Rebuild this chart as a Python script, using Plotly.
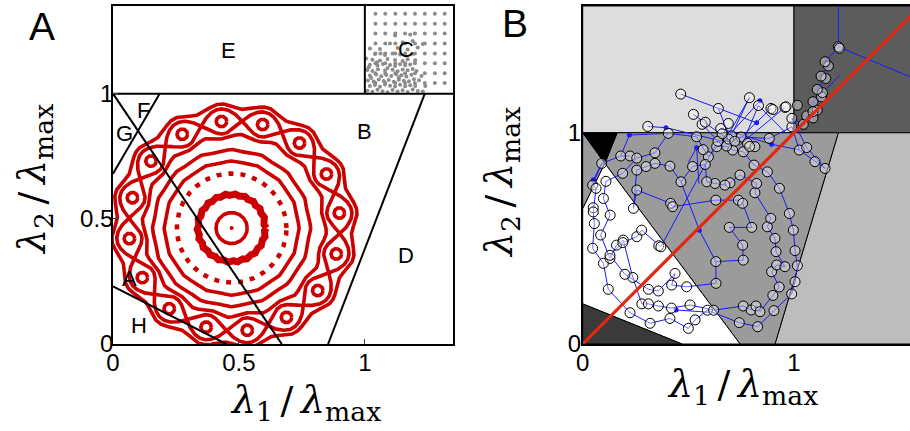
import numpy as np
import plotly.graph_objects as go

# ---------------- Panel A data ----------------
bound_x = [[0.0, 1.35], [1.0, 1.0], [0.0, 0.185], [0.0, 0.67], [0.0, 0.45], [0.854, 1.238]]
bound_y = [[1.0, 1.0], [1.0, 1.35], [0.68, 1.0], [1.0, 0.0], [0.23, 0.0], [0.0, 1.0]]

region_labels = ["E", "C", "F", "G", "B", "D", "A", "H"]
region_label_x = [0.458, 1.162, 0.12, 0.044, 1.0, 1.163, 0.065, 0.104]
region_label_y = [1.172, 1.175, 0.932, 0.839, 0.849, 0.352, 0.263, 0.072]

ring_cx, ring_cy = 0.482, 0.472
braid_r, braid_amp, braid_lobes = 0.42, 0.05, 8
eye_angle0_deg = 97.0
eye_circle_r = 0.021
outer_wavy_r, outer_wavy_amp = 0.478, 0.012
inner_wavy_r, inner_wavy_amp = 0.358, 0.008
plain_ring_r = [0.31, 0.265, 0.062]
plain_ring_amp = [0.004, 0.003, 0.0]
dotted_ring_r = 0.218
thick_ring_r, thick_ring_amp = 0.133, 0.005
inner_center = (0.471, 0.463)

c_grid_x = [1.042, 1.081, 1.121, 1.160, 1.199, 1.238, 1.278, 1.317]
c_grid_y = [1.319, 1.279, 1.240, 1.200, 1.160, 1.121, 1.081, 1.042]
c_clu_x = [1.01, 1.03, 1.05, 1.07, 1.09, 1.11, 1.13, 1.15, 1.17, 1.19, 1.21, 1.23,
           1.02, 1.04, 1.06, 1.08, 1.10, 1.12, 1.14, 1.16, 1.18, 1.20,
           1.012, 1.035, 1.055, 1.075, 1.095, 1.115, 1.135, 1.155, 1.175, 1.195, 1.215,
           1.02, 1.045, 1.065, 1.085, 1.105, 1.125, 1.145, 1.165, 1.185,
           1.01, 1.03, 1.052, 1.08, 1.11, 1.13, 1.15, 1.17, 1.19,
           1.02, 1.05, 1.072, 1.10, 1.12, 1.14, 1.16, 1.18,
           1.03, 1.06, 1.09, 1.12, 1.15, 1.17, 1.20,
           1.04, 1.08, 1.11, 1.14, 1.16, 1.19,
           1.02, 1.06, 1.13, 1.17, 1.21, 1.10, 1.15, 1.19, 1.23, 1.12, 1.18,
           1.025, 1.015, 1.048, 1.09, 1.135, 1.205, 1.24, 1.225, 1.005, 1.062]
c_clu_y = [1.012, 1.008, 1.015, 1.010, 1.006, 1.014, 1.009, 1.013, 1.007, 1.016, 1.011, 1.009,
           1.030, 1.034, 1.027, 1.036, 1.031, 1.028, 1.035, 1.029, 1.033, 1.030,
           1.052, 1.048, 1.056, 1.050, 1.054, 1.047, 1.055, 1.051, 1.049, 1.057, 1.053,
           1.072, 1.076, 1.069, 1.074, 1.070, 1.077, 1.073, 1.068, 1.075,
           1.094, 1.090, 1.097, 1.092, 1.095, 1.089, 1.096, 1.093, 1.098,
           1.115, 1.112, 1.118, 1.114, 1.110, 1.117, 1.113, 1.116,
           1.135, 1.132, 1.138, 1.134, 1.130, 1.137, 1.133,
           1.158, 1.154, 1.160, 1.156, 1.152, 1.159,
           1.18, 1.178, 1.182, 1.176, 1.184, 1.20, 1.205, 1.21, 1.198, 1.232, 1.236,
           1.062, 1.105, 1.125, 1.102, 1.064, 1.09, 1.03, 1.07, 1.14, 1.16]

# ---------------- Panel B data ----------------
reg_E_x, reg_E_y = [0, 1, 1, 0], [1, 1, 1.6, 1.6]
reg_C_x, reg_C_y = [1, 1.6, 1.6, 1], [1, 1, 1.6, 1.6]
reg_D_x, reg_D_y = [0.91, 1.6, 1.6, 1.21], [0, 0, 1, 1]
reg_B_x, reg_B_y = [0.105, 0.745, 0.91, 1.21, 0.163], [0.855, 0, 0, 1, 1]
reg_G_x, reg_G_y = [0, 0.105, 0], [1, 0.855, 0.64]
reg_F_x, reg_F_y = [0, 0.163, 0.105], [1, 1, 0.855]
reg_A_x, reg_A_y = [0, 0.105, 0.745, 0.47, 0], [0.64, 0.855, 0, 0, 0.19]
reg_H_x, reg_H_y = [0, 0, 0.47], [0, 0.19, 0]

traj_x = [0.224, 0.18, 0.09, 0.047, 0.063, 0.05, 0.05, 0.055, 0.047, 0.098, 0.121, 0.224,
          0.319, 0.413, 0.5, 0.532, 0.59, 0.741, 0.828, 0.905, 0.989, 1.005, 1.016, 1.005,
          0.997, 0.978, 0.931, 0.874, 0.811, 0.76, 0.71, 0.681, 0.634, 0.595, 0.539, 0.405,
          0.342, 0.256,
          0.189, 0.11, 0.098, 0.13, 0.085, 0.129, 0.16, 0.192, 0.237, 0.28, 0.311, 0.358,
          0.42, 0.508, 0.62, 0.76, 0.797, 0.82, 0.839, 0.9, 0.93, 0.894, 0.918, 0.957, 0.915,
          0.91, 0.874, 0.89, 0.815, 0.823, 0.744, 0.697, 0.673, 0.626, 0.587, 0.58, 0.52,
          0.465, 0.413, 0.342, 0.30, 0.256, 0.24,
          0.256, 0.416, 0.426, 0.63, 0.737, 0.757, 0.8, 0.694, 0.757, 0.76, 0.63, 0.631,
          0.492, 0.421, 0.437, 0.358, 0.311, 0.2, 0.129, 0.19, 0.256, 0.279, 0.36, 0.37,
          0.64, 0.75, 0.883, 0.99, 1.025, 1.099, 1.147, 1.06, 0.99, 1.044, 1.06, 1.09, 1.11,
          1.09, 1.09, 1.13, 1.135, 1.11, 1.15, 1.128, 1.163, 1.147, 1.21, 1.215]
traj_y = [0.89, 0.89, 0.855, 0.752, 0.737, 0.645, 0.625, 0.57, 0.453, 0.382, 0.259, 0.148,
          0.098, 0.121, 0.074, 0.114, 0.16, 0.101, 0.082, 0.158, 0.237, 0.295, 0.371, 0.442,
          0.539, 0.618, 0.737, 0.815, 0.847, 0.91, 0.918, 0.937, 0.934, 0.886, 0.981, 0.997,
          0.905, 0.88,
          0.808, 0.77, 0.689, 0.61, 0.516, 0.405, 0.468, 0.492, 0.315, 0.19, 0.19, 0.18,
          0.17, 0.185, 0.16, 0.18, 0.161, 0.18, 0.153, 0.23, 0.27, 0.342, 0.374, 0.366, 0.437,
          0.5, 0.555, 0.595, 0.716, 0.76, 0.8, 0.763, 0.752, 0.76, 0.768, 0.85, 0.84,
          0.768, 0.842, 0.855, 0.84, 0.823, 0.642,
          0.729, 0.666, 0.65, 0.681, 0.681, 0.666, 0.552, 0.552, 0.468, 0.397, 0.39, 0.287,
          0.271, 0.279, 0.334, 0.251, 0.259, 0.33, 0.42, 0.48, 0.508, 0.539, 0.465, 0.46,
          0.96, 0.98, 0.973, 1.028, 0.918, 0.863, 0.831, 0.93, 1.068, 1.04, 1.08, 1.07, 1.107,
          1.10, 1.147, 1.17, 1.19, 1.205, 1.257, 1.268, 1.316, 1.336, 1.407, 1.40]

extra_mk_x = [0.464, 0.789, 0.832, 0.891, 0.957, 0.642, 0.524, 0.565, 0.58, 0.308, 0.689,
              0.653, 0.705, 0.69, 0.72, 0.78, 0.815, 0.79, 0.962, 1.016, 0.90, 0.66, 0.57]
extra_mk_y = [1.183, 1.166, 1.129, 1.115, 1.12, 1.115, 1.087, 1.04, 1.05, 1.03, 1.044,
              1.02, 0.985, 0.97, 0.96, 0.95, 0.934, 0.935, 1.123, 1.13, 1.11, 0.995, 0.92]

seg_x0 = [0.464, 0.524, 0.642, 0.789, 0.832, 0.891, 0.957, 0.832, 0.565, 0.308, 0.394,
          0.221, 0.221, 0.653, 0.894, 0.539, 0.539, 0.552, 0.552, 0.05, 0.442, 1.21, 1.21,
          1.218, 0.839, 0.789]
seg_y0 = [1.183, 1.087, 1.115, 1.166, 1.129, 1.115, 1.12, 1.129, 1.04, 1.03, 1.024,
          0.989, 0.989, 1.02, 0.946, 0.929, 0.929, 0.539, 0.539, 0.776, 0.161, 1.407, 1.407,
          1.273, 1.151, 1.166]
seg_x1 = [0.823, 0.70, 0.70, 0.70, 0.76, 0.72, 0.74, 0.96, 0.67, 0.394, 0.66,
          0.405, 0.18, 0.894, 1.025, 0.55, 0.50, 0.465, 0.63, 0.09, 0.6, 1.21, 1.55,
          1.155, 0.69, 0.68]
seg_y1 = [1.047, 0.96, 0.97, 0.98, 0.96, 0.95, 0.94, 1.0, 0.93, 1.024, 0.96,
          0.997, 0.89, 0.946, 0.918, 0.76, 0.86, 0.768, 0.39, 0.855, 0.15, 1.6, 1.265,
          1.21, 0.985, 0.975]

small_dot_x = [0.394, 0.823, 0.221, 0.539, 0.894, 0.552, 0.05, 0.442, 0.839]
small_dot_y = [1.024, 1.047, 0.989, 0.929, 0.946, 0.539, 0.776, 0.161, 1.151]

diag_x = [0, 1.6]
diag_y = [0, 1.6]

# ---------------- Figure ----------------
fig = go.Figure()
RED = "#cc0000"

def add_curve(xs, ys, width=3.6, dash=None, color=RED):
    fig.add_trace(go.Scatter(x=xs, y=ys, mode="lines", xaxis="x", yaxis="y",
                             line=dict(color=color, width=width, dash=dash),
                             hoverinfo="skip", showlegend=False))

th = np.linspace(0, 2 * np.pi, 1441)
e0 = np.deg2rad(eye_angle0_deg)
ph = e0 - np.pi / (2 * braid_lobes)
r = outer_wavy_r + outer_wavy_amp * np.cos(2 * braid_lobes * (th - e0))
add_curve(ring_cx + r * np.cos(th), ring_cy + r * np.sin(th))
for s in (1, -1):
    r = braid_r + s * braid_amp * np.sin(braid_lobes * (th - ph))
    add_curve(ring_cx + r * np.cos(th), ring_cy + r * np.sin(th))
cx_all, cy_all = [], []
for k in range(2 * braid_lobes):
    a = e0 + k * np.pi / braid_lobes
    ex, ey = ring_cx + braid_r * np.cos(a), ring_cy + braid_r * np.sin(a)
    cx_all += list(ex + eye_circle_r * np.cos(th[::8])) + [None]
    cy_all += list(ey + eye_circle_r * np.sin(th[::8])) + [None]
add_curve(cx_all, cy_all)
r = inner_wavy_r - inner_wavy_amp * np.cos(2 * braid_lobes * (th - e0))
add_curve(ring_cx + r * np.cos(th), ring_cy + r * np.sin(th))
for rr, aa in zip(plain_ring_r, plain_ring_amp):
    r = rr + aa * np.cos(2 * braid_lobes * th)
    add_curve(inner_center[0] + r * np.cos(th), inner_center[1] + r * np.sin(th))
add_curve(inner_center[0] + dotted_ring_r * np.cos(th), inner_center[1] + dotted_ring_r * np.sin(th),
          width=4.5, dash="5px,7px")
r = thick_ring_r + thick_ring_amp * np.cos(22 * th)
add_curve(inner_center[0] + r * np.cos(th), inner_center[1] + r * np.sin(th), width=7)
fig.add_trace(go.Scatter(x=[inner_center[0]], y=[inner_center[1]], mode="markers", xaxis="x", yaxis="y",
                         marker=dict(color=RED, size=4), hoverinfo="skip", showlegend=False))

gx, gy = np.meshgrid(c_grid_x, c_grid_y)
fig.add_trace(go.Scatter(x=list(gx.ravel()) + c_clu_x, y=list(gy.ravel()) + c_clu_y, mode="markers",
                         xaxis="x", yaxis="y", marker=dict(color="#8c8c8c", size=4),
                         hoverinfo="skip", showlegend=False))

for bx, by in zip(bound_x, bound_y):
    fig.add_trace(go.Scatter(x=bx, y=by, mode="lines", xaxis="x", yaxis="y",
                             line=dict(color="black", width=2), hoverinfo="skip", showlegend=False))

for rx, ry, col in [(reg_E_x, reg_E_y, "#dddddd"), (reg_C_x, reg_C_y, "#5c5c5c"),
                    (reg_D_x, reg_D_y, "#bdbdbd"), (reg_B_x, reg_B_y, "#9b9b9b"),
                    (reg_G_x, reg_G_y, "#9b9b9b"), (reg_F_x, reg_F_y, "#000000"),
                    (reg_A_x, reg_A_y, "#ffffff"), (reg_H_x, reg_H_y, "#3a3a3a")]:
    fig.add_trace(go.Scatter(x=rx + [rx[0]], y=ry + [ry[0]], mode="lines", fill="toself",
                             fillcolor=col, line=dict(color="black", width=1),
                             xaxis="x2", yaxis="y2", hoverinfo="skip", showlegend=False))

BLUE = "#1a1aff"
fig.add_trace(go.Scatter(x=traj_x, y=traj_y, mode="lines", xaxis="x2", yaxis="y2",
                         line=dict(color=BLUE, width=1), hoverinfo="skip", showlegend=False))
sx, sy = [], []
for a, b, c, d in zip(seg_x0, seg_y0, seg_x1, seg_y1):
    sx += [a, c, None]
    sy += [b, d, None]
fig.add_trace(go.Scatter(x=sx, y=sy, mode="lines", xaxis="x2", yaxis="y2",
                         line=dict(color=BLUE, width=1), hoverinfo="skip", showlegend=False))
fig.add_trace(go.Scatter(x=small_dot_x, y=small_dot_y, mode="markers", xaxis="x2", yaxis="y2",
                         marker=dict(color=BLUE, size=5), hoverinfo="skip", showlegend=False))
fig.add_trace(go.Scatter(x=traj_x + extra_mk_x, y=traj_y + extra_mk_y, mode="markers",
                         xaxis="x2", yaxis="y2",
                         marker=dict(color="rgba(255,255,255,0.38)", size=10,
                                     line=dict(color="black", width=1)),
                         hoverinfo="skip", showlegend=False))
fig.add_trace(go.Scatter(x=diag_x, y=diag_y, mode="lines", xaxis="x2", yaxis="y2",
                         line=dict(color="#e2290f", width=3.2), hoverinfo="skip", showlegend=False))

TICKF = dict(family="Liberation Sans, Arial, sans-serif", size=24, color="black")
ydom = [1 - 344 / 431, 1 - 6 / 431]
common = dict(showgrid=False, zeroline=False, showline=True, linecolor="black", tickfont=TICKF,
              automargin=False)
fig.update_layout(
    width=910, height=431, margin=dict(l=0, r=0, t=0, b=0, autoexpand=False),
    paper_bgcolor="white", plot_bgcolor="white",
    xaxis=dict(domain=[113 / 910, 453 / 910], range=[0, 1.35], tickvals=[0, 0.5, 1],
               ticktext=["0", "0.5", "1"], ticks="inside", ticklen=5, mirror=True,
               linewidth=1.5, anchor="y", ticklabelstandoff=-4, **common),
    yaxis=dict(domain=ydom, range=[0, 1.35], tickvals=[0, 0.5, 1],
               ticktext=["0", "0.5", "1"], ticks="inside", ticklen=5, mirror=True,
               linewidth=1.5, anchor="x", ticklabelstandoff=-7, **common),
    xaxis2=dict(domain=[582.7 / 910, 1.0], range=[0, 1.549], tickvals=[0, 1],
                ticktext=["0", "1"], ticks="", mirror=True, linewidth=1.5, anchor="y2",
                ticklabelstandoff=-4, **common),
    yaxis2=dict(domain=ydom, range=[0, 1.6], tickvals=[0, 1], ticktext=["0", "1"],
                ticks="", mirror=False, linewidth=1.5, anchor="x2", ticklabelstandoff=-5, **common),
)

ann = []
LBLF = dict(family="Liberation Sans, Arial, sans-serif", size=22, color="black")
for t, x, y in zip(region_labels, region_label_x, region_label_y):
    ann.append(dict(text=t, x=x, y=y, xref="x", yref="y", showarrow=False, font=LBLF,
                    xanchor="center", yanchor="middle"))
TITLEF = dict(family="DejaVu Serif, serif", size=38, color="black")
TS = "\u2009"
xt = "<i>λ</i><sub>1</sub>" + TS + "/" + TS + "<i>λ</i><sub>max</sub>"
yt = "<i>λ</i><sub>2</sub>" + TS + "/" + TS + "<i>λ</i><sub>max</sub>"
def pann(text, px, py, font, angle=0):
    return dict(text=text, x=px / 910, y=1 - py / 431, xref="paper", yref="paper",
                showarrow=False, font=font, textangle=angle, xanchor="center", yanchor="middle")
ann += [
    pann(xt, 305, 402, TITLEF),
    pann(yt, 34, 180, TITLEF, -90),
    pann(xt, 742, 386, TITLEF),
    pann(yt, 501, 183, TITLEF, -90),
    pann("A", 41.5, 26.5, dict(family="Liberation Sans, Arial, sans-serif", size=39, color="black")),
    pann("B", 514.5, 23, dict(family="Liberation Sans, Arial, sans-serif", size=39, color="black")),
]
fig.update_layout(annotations=ann)
fig.write_html("out.html", config={"displayModeBar": False},
               post_script="document.body.style.margin='0px';")
